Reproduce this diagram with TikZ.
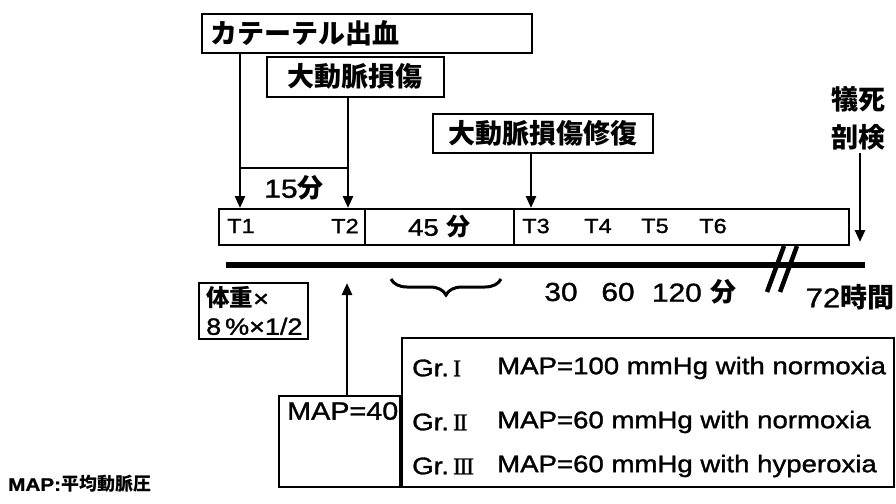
\documentclass[tikz,border=0pt]{standalone}
\usepackage{fontspec}
\setmainfont{Liberation Sans}[FakeStretch=1.15, FakeBold=1.3]
\newfontfamily\jp{Noto Sans CJK JP}
\newfontfamily\rom{Liberation Serif}[FakeBold=1]
\newcommand\J[1]{{\jp\bfseries #1}}
\usetikzlibrary{arrows.meta,decorations.pathreplacing}
\begin{document}
\begin{tikzpicture}[x=1pt,y=-1pt,
  box/.style={draw, line width=1.6pt, inner sep=0pt},
  arr/.style={line width=2.6pt, -{Triangle[width=10pt,length=12pt]}},
  lbl/.style={inner sep=0pt},
  jbig/.style={font=\fontsize{27}{30}\selectfont\jp\bfseries},
  tl/.style={font=\fontsize{20.5}{24}\selectfont},
  gr/.style={font=\fontsize{24}{28}\selectfont},
  num/.style={font=\fontsize{26}{30}\selectfont},
]
\useasboundingbox (0,0) rectangle (896,503);
\fill[white] (0,0) rectangle (896,503);

% top boxes
\node[box, minimum width=330, minimum height=39, anchor=north west] (cath) at (201,13) {};
\node[lbl, jbig, anchor=west] (cathT) at ([xshift=9pt]cath.west) {カテーテル出血};
\node[box, minimum width=177, minimum height=40, anchor=north west] (inj) at (266,56) {};
\node[lbl, jbig] (injT) at (inj.center) {大動脈損傷};
\node[box, minimum width=220, minimum height=39, anchor=north west] (rep) at (432,113) {};
\node[lbl, jbig] (repT) at (rep.center) {大動脈損傷修復};

% timeline boxes
\node[box, minimum width=146, minimum height=36, anchor=north west] (tb1) at (218,208) {};
\node[box, minimum width=149, minimum height=36, anchor=north west] (tb2) at (364,208) {};
\node[box, minimum width=335, minimum height=36, anchor=north west] (tb3) at (513,208) {};
\node[lbl, tl] (T1) at (241,226) {T1};
\node[lbl, tl] (T2) at (345,226) {T2};
\node[lbl, font=\fontsize{24}{28}\selectfont] (m45) at (tb2.center) {45 \J{分}};
\node[lbl, tl] (T3) at (536,226) {T3};
\node[lbl, tl] (T4) at (598,226) {T4};
\node[lbl, tl] (T5) at (655,226) {T5};
\node[lbl, tl] (T6) at (713,226) {T6};

% arrows to timeline
\coordinate (a1) at (240,208);
\coordinate (a2) at (348,208);
\coordinate (a3) at (531,208);
\draw[arr] (cath.south -| a1) -- (a1);
\draw[arr] (inj.south -| a2) -- (a2);
\draw[arr] (rep.south -| a3) -- (a3);
\coordinate (h1) at (240,168);
\coordinate (h2) at (348,168);
\draw[line width=1.6pt] (h1) -- (h2);
\node[lbl, font=\fontsize{26}{30}\selectfont] (m15) at (294,188) {15\J{分}};

% sacrifice
\node[lbl, jbig, align=center] (sac) at (858,118) {犠死\\[8pt]剖検};
\coordinate (a4) at (860,242);
\draw[arr] (sac.south -| a4) ++(0,3) -- (a4);

% main line
\coordinate (L0) at (226,265);
\coordinate (L1) at (865,265);
\draw[line width=6pt] (L0) -- (L1);
\draw[line width=4.5pt] (767,292) -- (784,246);
\draw[line width=4.5pt] (780,292) -- (797,246);

\node[lbl, num] (n30) at (561,292) {30};
\node[lbl, num] (n60) at (618,292) {60};
\node[lbl, num] (n120) at (694,292) {120 \J{分}};
\node[lbl, font=\fontsize{27}{31}\selectfont] (n72) at (850,297) {72\J{時間}};

% brace
\draw[line width=3pt, decorate, decoration={brace, mirror, amplitude=16pt}] (391,279) -- (501,279);

% body weight box
\node[box, minimum width=109, minimum height=56, anchor=north west] (bw) at (198,282) {};
\node[lbl, anchor=west, align=left, font=\fontsize{23.5}{28}\selectfont] (bwT) at ([xshift=8pt]bw.west) {\J{体重}×\\8\,\%×1/2};

% groups
\node[box, minimum width=492, minimum height=149, anchor=north west] (grp) at (401,337) {};
\node[box, minimum width=121, minimum height=91, anchor=north east] (m40) at (401,395) {};
\node[lbl, font=\fontsize{25}{28}\selectfont, anchor=north west] (m40T) at (287,402) {MAP=40};
\coordinate (a5) at (347,283);
\draw[arr] (m40.north -| a5) -- (a5);

\node[lbl, gr, anchor=west] (g1) at (412,368) {Gr.\,{\rom I}};
\node[lbl, gr, anchor=west] (g1T) at (497,368) {MAP=100 mmHg with normoxia};
\node[lbl, gr, anchor=west] (g2) at (412,422) {Gr.\,{\rom I\kern-1.5pt I}};
\node[lbl, gr, anchor=west] (g2T) at (497,422) {MAP=60 mmHg with normoxia};
\node[lbl, gr, anchor=west] (g3) at (412,466) {Gr.\,{\rom I\kern-1.5pt I\kern-1.5pt I}};
\node[lbl, gr, anchor=west] (g3T) at (497,466) {MAP=60 mmHg with hyperoxia};

\node[lbl, anchor=west, font=\fontsize{18}{21}\selectfont\bfseries] (legend) at (8,484) {MAP:\J{平均動脈圧}};
\end{tikzpicture}
\end{document}
